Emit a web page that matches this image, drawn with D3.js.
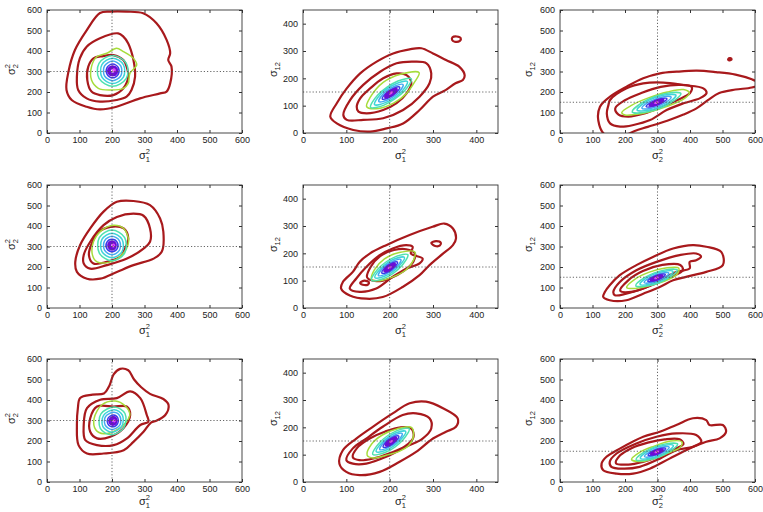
<!DOCTYPE html>
<html><head><meta charset="utf-8">
<script src="https://cdn.jsdelivr.net/npm/d3@7"></script>
<style>
body{margin:0;background:#fff}
svg{display:block}
text{font-family:"Liberation Sans",Arial,sans-serif;fill:#222}
</style>
</head><body>
<svg id="chart" width="763" height="512"></svg>
<script>
// ---------- data ----------
const levelColors = ["#a8191c","#a8191c","#a8191c","#a8191c","#a6dc3a","#4fe2ae","#3ed4d8","#46aaf0","#3c3ce8","#6c0ed4","#e24af2"];
const ticks600 = [0,100,200,300,400,500,600];
const ticks450 = [0,100,200,300,400];
const colDomainMax = [600,450,600];
const colXSub = ["1","1","2"];
const colXSup = ["2","2","2"];
const colYSub = ["2","12","12"];
const colYSup = ["2","",""];
const truthX = [200,200,300];
const truthY = [300,150,150];

// contour rings: [level, [[x,y],...]]
const c11 = [
 [0,[[194,592],[245,592],[296,584],[337,535],[368,454],[379,389],[373,356],[383,324],[379,242],[368,202],[348,193],[286,169],[214,128],[163,115],[122,128],[76,161],[60,210],[66,299],[86,405],[122,501],[163,585]]],
 [1,[[219,486],[163,462],[122,421],[101,364],[92,275],[96,210],[122,169],[163,153],[214,161],[245,177],[260,210],[271,275],[266,356],[250,437],[235,470]]],
 [2,[[143,364],[127,324],[124,258],[137,202],[163,185],[204,185],[235,218],[250,275],[245,324],[235,356],[204,380],[173,375]]],
 [4,[[214,413],[235,397],[266,364],[276,332],[255,291],[250,242],[235,218],[194,210],[158,218],[137,258],[137,324],[153,372],[184,389]]],
 [5,[[202,378],[244,340],[244,266],[202,228],[160,266],[160,340]]],
 [6,[[202,365],[235,334],[235,272],[202,241],[169,272],[169,334]]],
 [7,[[202,351],[227,327],[227,279],[202,255],[177,279],[177,327]]],
 [8,[[202,337],[219,320],[219,286],[202,269],[185,286],[185,320]]],
 [9,[[202,325],[214,314],[214,292],[202,281],[190,292],[190,314]]],
 [9,[[202,317],[210,310],[210,296],[202,289],[194,296],[194,310]]],
 [10,[[206,312],[209,309],[209,303],[206,300],[203,303],[203,309]]]
];
const c12 = [
 [0,[[63,60],[78,109],[101,163],[132,218],[170,261],[208,291],[246,306],[273,310],[300,291],[330,267],[361,242],[373,212],[369,194],[352,182],[329,157],[300,133],[269,84],[231,35],[193,17],[155,5],[116,11],[78,35]]],
 [0,[[345,350],[355,353],[364,347],[362,337],[350,334],[344,341]]],
 [1,[[93,66],[109,121],[139,176],[178,224],[216,255],[254,261],[285,255],[296,218],[292,182],[269,133],[231,84],[185,54],[139,48],[101,48]]],
 [2,[[124,96],[132,127],[155,163],[185,200],[216,218],[239,212],[250,182],[239,145],[216,109],[185,84],[147,72],[128,78]]],
 [4,[[147,96],[155,130],[185,185],[225,215],[268,221],[257,185],[239,145],[210,110],[175,90]]],
 [5,[[250,198],[234,154],[187,102],[156,94],[172,138],[219,190]]],
 [6,[[241,188],[228,152],[190,111],[165,104],[178,140],[216,181]]],
 [7,[[231,177],[222,151],[193,120],[175,115],[184,141],[213,172]]],
 [8,[[223,168],[216,149],[196,128],[183,124],[190,143],[210,164]]],
 [9,[[216,161],[212,148],[199,134],[190,131],[194,144],[207,158]]],
 [9,[[211,155],[208,147],[200,139],[195,137],[198,145],[206,153]]],
 [10,[[206,150],[205,147],[202,143],[200,142],[201,145],[204,149]]]
];
const c13 = [
 [0,[[140,-10],[118,60],[123,128],[154,177],[205,226],[256,267],[308,291],[359,299],[421,304],[480,297],[540,285],[590,262],[615,240],[590,222],[540,212],[490,195],[455,160],[420,120],[380,90],[330,60],[270,30],[230,10],[200,-10]]],
 [0,[[518,362],[524,365],[528,360],[524,355],[518,356]]],
 [1,[[154,161],[205,218],[256,242],[318,246],[380,234],[441,218],[451,195],[431,170],[380,145],[328,112],[277,63],[226,39],[185,31],[154,47],[144,96],[149,136]]],
 [2,[[170,120],[200,160],[250,195],[310,225],[370,235],[405,225],[400,195],[360,160],[310,125],[260,95],[210,80],[180,90]]],
 [4,[[190,100],[220,135],[270,170],[330,200],[380,212],[398,195],[380,165],[330,130],[280,105],[230,90],[200,88]]],
 [5,[[372,193],[341,147],[266,102],[222,103],[254,149],[329,194]]],
 [6,[[357,184],[332,147],[272,111],[237,112],[262,149],[322,185]]],
 [7,[[342,175],[323,147],[278,120],[252,121],[271,149],[316,176]]],
 [8,[[329,167],[315,148],[284,129],[265,129],[279,148],[310,167]]],
 [9,[[318,161],[309,148],[288,135],[276,135],[285,148],[306,161]]],
 [9,[[308,155],[304,148],[292,141],[286,141],[290,148],[302,155]]],
 [10,[[302,151],[300,148],[295,145],[292,145],[294,148],[299,151]]]
];
const c21 = [
 [0,[[215,518],[266,522],[317,502],[348,437],[358,372],[353,274],[328,241],[266,209],[215,176],[164,143],[123,143],[92,176],[87,225],[102,307],[133,388],[174,470]]],
 [1,[[266,460],[297,450],[317,388],[317,323],[297,290],[246,241],[184,209],[133,192],[113,217],[113,258],[133,323],[174,404],[215,444]]],
 [2,[[195,396],[236,388],[250,340],[240,290],[225,249],[184,225],[143,217],[129,258],[140,323],[160,372]]],
 [4,[[205,404],[236,388],[251,323],[230,258],[195,225],[154,225],[140,258],[143,323],[169,380]]],
 [5,[[200,380],[239,343],[239,268],[200,230],[161,268],[161,343]]],
 [6,[[200,365],[231,335],[231,275],[200,245],[169,275],[169,335]]],
 [7,[[200,350],[223,328],[223,282],[200,260],[177,282],[177,328]]],
 [8,[[200,335],[216,320],[216,290],[200,275],[184,290],[184,320]]],
 [9,[[200,325],[210,315],[210,295],[200,285],[190,295],[190,315]]],
 [9,[[200,317],[206,311],[206,299],[200,293],[194,299],[194,311]]],
 [10,[[204,311],[207,308],[207,302],[204,299],[201,302],[201,308]]]
];
const c22 = [
 [0,[[88,71],[92,95],[115,132],[131,169],[154,199],[192,230],[246,267],[299,297],[326,309],[346,291],[353,254],[346,230],[323,199],[292,157],[269,120],[230,77],[184,40],[146,34],[108,46]]],
 [0,[[296,238],[307,245],[318,239],[316,229],[305,227]]],
 [1,[[108,71],[123,108],[146,150],[177,193],[207,218],[238,230],[253,224],[249,199],[276,181],[269,163],[238,144],[207,114],[169,71],[131,59]]],
 [1,[[132,92],[142,100],[152,94],[150,86],[138,85]]],
 [2,[[148,112],[156,150],[178,190],[210,212],[238,215],[258,200],[255,170],[232,135],[200,108],[170,98]]],
 [4,[[158,105],[165,140],[188,180],[222,203],[258,205],[255,175],[238,140],[205,112],[178,100]]],
 [5,[[242,195],[228,155],[186,108],[158,101],[172,141],[214,188]]],
 [6,[[234,185],[222,154],[188,116],[166,111],[178,142],[212,180]]],
 [7,[[226,177],[217,152],[191,124],[174,119],[183,144],[209,172]]],
 [8,[[218,168],[212,151],[194,131],[182,128],[188,145],[206,165]]],
 [9,[[212,161],[208,150],[196,137],[188,135],[192,146],[204,159]]],
 [9,[[207,155],[204,149],[198,142],[193,141],[196,147],[202,154]]],
 [10,[[203,151],[202,148],[199,146],[197,145],[198,148],[201,150]]]
];
const c23 = [
 [0,[[138,78],[153,111],[184,160],[235,209],[286,249],[348,290],[409,307],[450,299],[496,274],[501,209],[450,176],[388,152],[348,135],[307,103],[256,70],[204,38],[153,38],[133,54]]],
 [1,[[164,78],[184,127],[235,184],[297,225],[368,258],[419,266],[434,250],[419,233],[399,225],[399,193],[358,176],[307,135],[256,95],[204,70],[169,62]]],
 [2,[[185,85],[210,135],[255,180],[315,210],[370,210],[378,185],[340,150],[280,110],[225,80]]],
 [4,[[205,100],[230,140],[275,175],[325,195],[365,195],[360,165],[320,130],[265,105],[225,95]]],
 [5,[[361,185],[334,146],[270,108],[233,109],[260,148],[324,186]]],
 [6,[[348,178],[327,146],[276,116],[246,116],[267,148],[318,178]]],
 [7,[[335,170],[319,147],[281,124],[259,124],[275,147],[313,170]]],
 [8,[[324,163],[313,147],[286,130],[270,131],[281,147],[308,164]]],
 [9,[[315,158],[307,147],[289,136],[279,136],[287,147],[305,158]]],
 [9,[[307,153],[303,147],[293,141],[287,141],[291,147],[301,153]]],
 [10,[[302,150],[300,147],[295,144],[292,144],[294,147],[299,150]]]
];
const c31 = [
 [0,[[102,410],[140,426],[175,432],[192,470],[205,525],[225,552],[250,545],[268,500],[290,462],[317,430],[358,405],[374,376],[364,327],[338,300],[320,290],[297,245],[266,196],[236,155],[174,139],[123,139],[97,180],[92,278],[95,360]]],
 [1,[[164,401],[215,409],[256,442],[287,409],[307,327],[312,294],[287,278],[246,213],[205,180],[154,180],[118,204],[113,278],[123,360]]],
 [2,[[154,368],[205,368],[246,368],[256,327],[235,262],[195,221],[154,213],[133,245],[133,311]]],
 [4,[[170,378],[210,395],[240,372],[255,330],[240,285],[210,250],[175,235],[150,255],[145,310]]],
 [5,[[208,366],[240,334],[236,264],[198,230],[164,262],[166,332]]],
 [6,[[207,353],[232,326],[230,271],[199,243],[172,270],[174,325]]],
 [7,[[206,340],[225,319],[224,277],[200,256],[179,277],[180,319]]],
 [8,[[205,327],[218,312],[217,284],[201,269],[187,284],[188,312]]],
 [9,[[204,317],[213,307],[212,289],[202,279],[193,289],[194,307]]],
 [9,[[204,309],[209,303],[208,293],[203,287],[198,293],[199,303]]],
 [10,[[207,302],[209,300],[209,296],[207,294],[205,296],[205,300]]]
];
const c32 = [
 [0,[[84,67],[92,116],[123,159],[161,202],[207,251],[246,288],[284,294],[323,270],[357,233],[353,202],[330,184],[300,159],[261,110],[223,74],[177,37],[131,25],[100,37]]],
 [1,[[100,80],[115,123],[146,159],[184,202],[230,245],[261,251],[292,233],[296,196],[276,159],[238,129],[192,92],[146,67],[115,67]]],
 [2,[[115,90],[125,125],[155,160],[190,185],[225,200],[250,195],[255,165],[235,130],[200,105],[160,85],[130,80]]],
 [4,[[148,98],[158,138],[183,172],[218,195],[250,200],[255,170],[245,135],[222,112],[192,98],[162,88]]],
 [5,[[245,195],[231,155],[189,108],[161,101],[175,141],[217,188]]],
 [6,[[237,185],[225,154],[191,116],[169,111],[181,142],[215,180]]],
 [7,[[229,177],[220,152],[194,124],[177,119],[186,144],[212,172]]],
 [8,[[221,168],[215,151],[197,131],[185,128],[191,145],[209,165]]],
 [9,[[215,161],[211,150],[199,137],[191,135],[195,146],[207,159]]],
 [9,[[210,155],[207,149],[201,142],[196,141],[199,147],[205,154]]],
 [10,[[206,151],[205,148],[202,146],[200,145],[201,148],[204,150]]]
];
const c33 = [
 [0,[[128,90],[143,123],[184,163],[256,221],[307,245],[358,278],[409,311],[450,302],[460,278],[501,278],[511,245],[491,213],[450,196],[399,163],[337,114],[276,65],[225,41],[174,41],[133,57]]],
 [1,[[153,98],[174,139],[235,188],[297,221],[358,237],[419,229],[435,196],[409,172],[358,155],[307,114],[245,74],[194,65],[158,74]]],
 [2,[[172,92],[185,130],[220,165],[270,192],[322,208],[368,208],[380,185],[345,155],[300,122],[255,98],[210,85]]],
 [4,[[220,110],[245,145],[290,175],[340,200],[375,195],[370,170],[330,140],[290,115],[250,100]]],
 [5,[[362,185],[335,146],[271,108],[234,109],[261,148],[325,186]]],
 [6,[[349,178],[328,146],[277,116],[247,116],[268,148],[319,178]]],
 [7,[[336,170],[320,147],[282,124],[260,124],[276,147],[314,170]]],
 [8,[[325,163],[314,147],[287,130],[271,131],[282,147],[309,164]]],
 [9,[[316,158],[308,147],[290,136],[280,136],[288,147],[306,158]]],
 [9,[[308,153],[304,147],[294,141],[288,141],[292,147],[302,153]]],
 [10,[[303,150],[301,147],[296,144],[293,144],[295,147],[300,150]]]
];
const panelContours = [[c11,c12,c13],[c21,c22,c23],[c31,c32,c33]];

// ---------- layout ----------
const colX0 = [47,303,560];
const rowY0 = [10,185,359];
const rowXLabelGap = [26,26,23];
const pw = 195, ph = 123;
const yLabelOffset = [-32,-26,-28];

const svg = d3.select("#chart");
svg.append("rect").attr("width",763).attr("height",512).attr("fill","#fff");

function sigmaLabel(parent, sub, sup){
  const t = parent.append("g");
  t.append("text").attr("x",0).attr("y",0).style("font-size","11px").text("σ");
  if (sup) t.append("text").attr("x",6.6).attr("y",-5).style("font-size","7.5px").text(sup);
  t.append("text").attr("x",6.6).attr("y",3.4).style("font-size","7.5px").text(sub);
  const width = 6.6 + 4.2*Math.max(sub.length, sup ? sup.length : 0);
  t.attr("transform",`translate(${-width/2},0)`);
}

rowY0.forEach((y0, r) => {
  colX0.forEach((x0, c) => {
    const maxV = colDomainMax[c];
    const ticks = maxV === 600 ? ticks600 : ticks450;
    const xs = d3.scaleLinear().domain([0,maxV]).range([0,pw]);
    const ys = d3.scaleLinear().domain([0,maxV]).range([ph,0]);
    const g = svg.append("g").attr("transform",`translate(${x0},${y0})`);
    const clipId = `clip-${r}-${c}`;
    g.append("clipPath").attr("id",clipId).append("rect").attr("width",pw).attr("height",ph);
    const plot = g.append("g").attr("clip-path",`url(#${clipId})`);

    const line = d3.line().x(d=>xs(d[0])).y(d=>ys(d[1])).curve(d3.curveCatmullRomClosed.alpha(0.5));
    plot.selectAll("path.ring").data(panelContours[r][c]).join("path")
      .attr("class","ring")
      .attr("d", d => line(d[1]))
      .attr("fill","none")
      .attr("stroke", d => levelColors[d[0]])
      .attr("stroke-width", d => d[0] < 4 ? 2.2 : (d[0] === 9 ? 2.4 : 1.5))
      .attr("stroke-linejoin","round");

    // truth crosshair
    plot.append("line").attr("x1",xs(truthX[c])).attr("x2",xs(truthX[c])).attr("y1",0).attr("y2",ph)
      .attr("stroke","#555").attr("stroke-width",0.9).attr("stroke-dasharray","1.2,2");
    plot.append("line").attr("x1",0).attr("x2",pw).attr("y1",ys(truthY[c])).attr("y2",ys(truthY[c]))
      .attr("stroke","#555").attr("stroke-width",0.9).attr("stroke-dasharray","1.2,2");

    // axes
    const styleAxis = sel => {
      sel.select(".domain").remove();
      sel.selectAll(".tick line").attr("stroke","#333");
      sel.selectAll("text").style("font-size","9px").attr("fill","#222");
      sel.attr("font-family",null).attr("font-size",null);
    };
    g.append("g").attr("transform",`translate(0,${ph})`)
      .call(d3.axisBottom(xs).tickValues(ticks).tickSize(-3).tickSizeOuter(0).tickPadding(4)).call(styleAxis);
    g.append("g")
      .call(d3.axisTop(xs).tickValues(ticks).tickSize(-3).tickSizeOuter(0).tickFormat(()=>"")).call(styleAxis);
    g.append("g")
      .call(d3.axisLeft(ys).tickValues(ticks).tickSize(-3).tickSizeOuter(0).tickPadding(5)).call(styleAxis);
    g.append("g").attr("transform",`translate(${pw},0)`)
      .call(d3.axisRight(ys).tickValues(ticks).tickSize(-3).tickSizeOuter(0).tickFormat(()=>"")).call(styleAxis);
    g.append("rect").attr("width",pw).attr("height",ph).attr("fill","none").attr("stroke","#333").attr("stroke-width",0.9);

    // labels
    const xl = g.append("g").attr("transform",`translate(${pw/2},${ph+rowXLabelGap[r]})`);
    sigmaLabel(xl, colXSub[c], colXSup[c]);
    const yl = g.append("g").attr("transform",`translate(${yLabelOffset[c]},${ph/2 - 2}) rotate(-90)`);
    sigmaLabel(yl, colYSub[c], colYSup[c]);
  });
});
</script>
</body></html>
